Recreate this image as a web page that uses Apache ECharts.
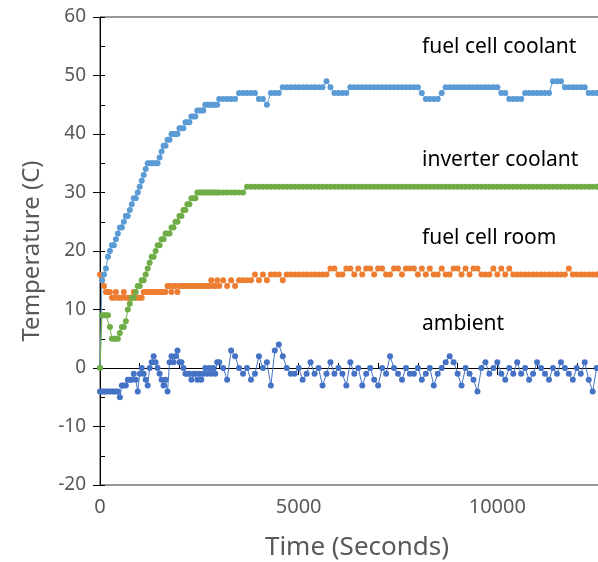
<!DOCTYPE html>
<html>
<head>
<meta charset="utf-8">
<script src="https://cdn.jsdelivr.net/npm/echarts@6/dist/echarts.min.js"></script>
<style>
  html, body { margin: 0; padding: 0; background: #fff; }
  #chart { width: 598px; height: 562px; }
</style>
</head>
<body>
<div id="chart"></div>
<script>
// sample times (s): every 50 s up to 3000, then every 100 s
const times = [
  0, 50, 100, 150, 200, 250, 300, 350, 400, 450,
  500, 550, 600, 650, 700, 750, 800, 850, 900, 950,
  1000, 1050, 1100, 1150, 1200, 1250, 1300, 1350, 1400, 1450,
  1500, 1550, 1600, 1650, 1700, 1750, 1800, 1850, 1900, 1950,
  2000, 2050, 2100, 2150, 2200, 2250, 2300, 2350, 2400, 2450,
  2500, 2550, 2600, 2650, 2700, 2750, 2800, 2850, 2900, 2950,
  3000,
  3100, 3200, 3300, 3400, 3500, 3600, 3700, 3800, 3900, 4000,
  4100, 4200, 4300, 4400, 4500, 4600, 4700, 4800, 4900, 5000,
  5100, 5200, 5300, 5400, 5500, 5600, 5700, 5800, 5900, 6000,
  6100, 6200, 6300, 6400, 6500, 6600, 6700, 6800, 6900, 7000,
  7100, 7200, 7300, 7400, 7500, 7600, 7700, 7800, 7900, 8000,
  8100, 8200, 8300, 8400, 8500, 8600, 8700, 8800, 8900, 9000,
  9100, 9200, 9300, 9400, 9500, 9600, 9700, 9800, 9900, 10000,
  10100, 10200, 10300, 10400, 10500, 10600, 10700, 10800, 10900, 11000,
  11100, 11200, 11300, 11400, 11500, 11600, 11700, 11800, 11900, 12000,
  12100, 12200, 12300, 12400, 12500
];

const fuelCellCoolant = [
  0, 15, 16, 17, 19, 20, 21, 21, 22, 23,
  24, 24, 25, 26, 26, 27, 28, 29, 29, 30,
  31, 32, 33, 34, 35, 35, 35, 35, 35, 35,
  36, 37, 38, 38, 39, 39, 40, 40, 40, 40,
  41, 41, 41, 42, 42, 42, 43, 43, 43, 44,
  44, 44, 44, 45, 45, 45, 45, 45, 45, 45,
  46,
  46, 46, 46, 46, 47, 47, 47, 47, 47, 46,
  46, 45, 47, 47, 47, 48, 48, 48, 48, 48,
  48, 48, 48, 48, 48, 48, 49, 48, 47, 47,
  47, 47, 48, 48, 48, 48, 48, 48, 48, 48,
  48, 48, 48, 48, 48, 48, 48, 48, 48, 48,
  47, 46, 46, 46, 46, 47, 48, 48, 48, 48,
  48, 48, 48, 48, 48, 48, 48, 48, 48, 48,
  47, 47, 46, 46, 46, 46, 47, 47, 47, 47,
  47, 47, 47, 49, 49, 49, 48, 48, 48, 48,
  48, 48, 47, 47, 47
];

const inverterCoolant = [
  0, 9, 9, 9, 9, 7, 5, 5, 5, 5,
  6, 7, 7, 8, 10, 11, 12, 12, 13, 14,
  14, 15, 15, 16, 17, 18, 19, 19, 20, 21,
  21, 22, 22, 23, 23, 23, 24, 24, 25, 25,
  26, 26, 27, 27, 28, 28, 29, 29, 29, 30,
  30, 30, 30, 30, 30, 30, 30, 30, 30, 30,
  30,
  30, 30, 30, 30, 30, 30, 31, 31, 31, 31,
  31, 31, 31, 31, 31, 31, 31, 31, 31, 31,
  31, 31, 31, 31, 31, 31, 31, 31, 31, 31,
  31, 31, 31, 31, 31, 31, 31, 31, 31, 31,
  31, 31, 31, 31, 31, 31, 31, 31, 31, 31,
  31, 31, 31, 31, 31, 31, 31, 31, 31, 31,
  31, 31, 31, 31, 31, 31, 31, 31, 31, 31,
  31, 31, 31, 31, 31, 31, 31, 31, 31, 31,
  31, 31, 31, 31, 31, 31, 31, 31, 31, 31,
  31, 31, 31, 31, 31
];

const fuelCellRoom = [
  16, 15, 14, 13, 13, 13, 12, 12, 13, 12,
  12, 12, 13, 12, 12, 12, 12, 13, 12, 12,
  12, 12, 13, 13, 13, 13, 13, 13, 13, 13,
  13, 13, 13, 13, 14, 14, 13, 14, 14, 13,
  14, 14, 14, 14, 14, 14, 14, 14, 14, 14,
  14, 14, 14, 14, 14, 14, 15, 14, 14, 15,
  14,
  15, 14, 15, 14, 15, 15, 15, 15, 16, 15,
  16, 15, 16, 16, 16, 15, 16, 16, 16, 16,
  16, 16, 16, 16, 16, 16, 16, 17, 17, 16,
  16, 17, 17, 16, 17, 16, 17, 17, 16, 17,
  17, 16, 16, 17, 17, 16, 17, 17, 17, 16,
  17, 16, 17, 16, 16, 17, 16, 16, 17, 17,
  16, 17, 16, 17, 17, 16, 16, 16, 17, 16,
  17, 16, 17, 16, 16, 16, 16, 16, 16, 16,
  16, 16, 16, 16, 16, 16, 16, 17, 16, 16,
  16, 16, 16, 16, 16
];

const ambient = [
  -4, -4, -4, -4, -4, -4, -4, -4, -4, -4,
  -5, -3, -3, -3, -2, -2, -2, -1, -2, -4,
  -1, 0, -1, -2, -3, 0, 1, 2, 1, 0,
  -1, -2, -3, -2, -4, 1, 2, 1, 2, 3,
  1, 1, 0, -1, -1, -1, -2, -1, -1, -2,
  -1, -2, -1, 0, -1, 0, -1, 0, -1, 1,
  1,
  0, -2, 3, 2, 0, -1, 0, -2, -1, 2,
  0, 1, -3, 3, 4, 2, 0, -1, -1, 0,
  -2, -1, 1, -1, 0, -3, -1, 1, -1, 0,
  -1, -3, 1, -1, 0, -3, -1, 0, -2, -3,
  0, -1, 2, 0, -1, -2, 0, -1, -1, 0,
  -2, -1, 0, -3, -1, 0, 1, 2, 1, -1,
  -3, 0, -1, -2, -4, 0, 1, -1, 0, 1,
  -1, -2, 0, -1, 1, -1, 0, -2, -1, 1,
  0, -1, -2, 0, -1, 1, 0, -1, -2, 0,
  -1, 1, -2, -4, 0
];

const seriesNames = ["fuel cell room", "ambient", "fuel cell coolant", "inverter coolant"];
const seriesColors = ["#ED7D31", "#4472C4", "#5B9BD5", "#70AD47"];
const seriesValues = [fuelCellRoom, ambient, fuelCellCoolant, inverterCoolant];

const font = '"Noto Sans", "Liberation Sans", sans-serif';
const chart = echarts.init(document.getElementById("chart"));

// 0..15000 s spans ~595 px, the picture is cut at ~12500 s
const xAxisBase = { type: "value", min: 0, max: 15000, interval: 5000, position: "bottom", splitLine: { show: false } };
const yAxisBase = { type: "value", min: -20, max: 60, interval: 10, position: "left", splitLine: { show: false } };

chart.setOption({
  animation: false,
  grid: {
    left: 100, right: -98, top: 17, bottom: 77,
    containLabel: false, outerBoundsMode: "none",
    show: true, borderColor: "#333", borderWidth: 1, backgroundColor: "transparent"
  },
  xAxis: [
    Object.assign({}, xAxisBase, {
      axisLine: { lineStyle: { color: "#000", width: 1 } },
      axisTick: { inside: false, length: 7, lineStyle: { color: "#000" } },
      axisLabel: { color: "#595959", fontSize: 20, fontFamily: font, margin: 12, formatter: v => String(v) }
    }),
    Object.assign({}, xAxisBase, {
      axisLine: { show: false },
      axisTick: { inside: true, length: 5, lineStyle: { color: "#000" } },
      minorTick: { show: true, splitNumber: 5, length: 5, lineStyle: { color: "#000" } },
      axisLabel: { show: false }
    })
  ],
  yAxis: [
    Object.assign({}, yAxisBase, {
      name: "Temperature (C)",
      nameLocation: "middle",
      nameGap: 56,
      nameTextStyle: { color: "#595959", fontSize: 24, fontFamily: font },
      axisLine: { lineStyle: { color: "#000", width: 1 } },
      axisTick: { inside: false, length: 7, lineStyle: { color: "#000" } },
      axisLabel: { color: "#595959", fontSize: 19, fontFamily: font, margin: 14, formatter: v => String(v) }
    }),
    Object.assign({}, yAxisBase, {
      axisLine: { show: false },
      axisTick: { inside: true, length: 5, lineStyle: { color: "#000" } },
      minorTick: { show: true, splitNumber: 2, length: 5, lineStyle: { color: "#000" } },
      axisLabel: { show: false }
    })
  ],
  graphic: [
    { type: "text", x: 357, y: 548, style: { text: "Time (Seconds)", font: "26px " + font, fill: "#595959", textAlign: "center", textVerticalAlign: "middle" } },
    { type: "text", x: 422, y: 47, style: { text: "fuel cell coolant", font: "21px " + font, fill: "#000", textAlign: "left", textVerticalAlign: "middle" } },
    { type: "text", x: 422, y: 160, style: { text: "inverter coolant", font: "21px " + font, fill: "#000", textAlign: "left", textVerticalAlign: "middle" } },
    { type: "text", x: 422, y: 238, style: { text: "fuel cell room", font: "21px " + font, fill: "#000", textAlign: "left", textVerticalAlign: "middle" } },
    { type: "text", x: 422, y: 324, style: { text: "ambient", font: "21px " + font, fill: "#000", textAlign: "left", textVerticalAlign: "middle" } }
  ],
  series: seriesNames.map((name, k) => ({
    name: name,
    type: "line",
    xAxisIndex: 0,
    yAxisIndex: 0,
    data: times.map((t, i) => [t, seriesValues[k][i]]),
    symbol: "circle",
    symbolSize: 6,
    showAllSymbol: true,
    color: seriesColors[k],
    itemStyle: { color: seriesColors[k] },
    lineStyle: { color: seriesColors[k], width: 1 }
  }))
});
</script>
</body>
</html>
